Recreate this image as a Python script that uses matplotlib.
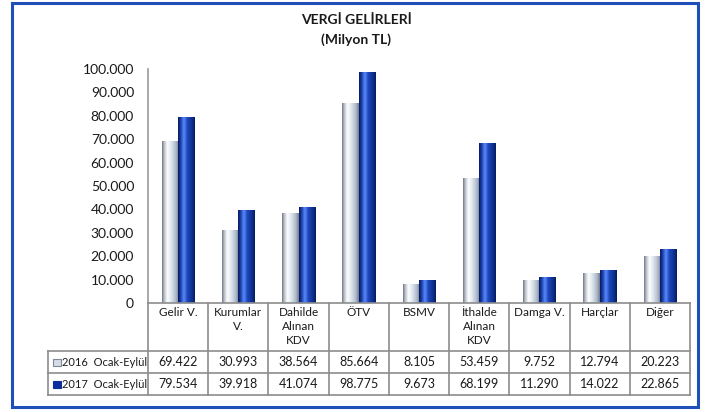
import matplotlib
matplotlib.use("Agg")
import matplotlib.pyplot as plt
import matplotlib.transforms as mtransforms
from matplotlib.colors import LinearSegmentedColormap
from matplotlib.patches import Rectangle
import numpy as np

# ── Data ──────────────────────────────────────────────────────────────────────
categories = ["Gelir V.", "Kurumlar\nV.", "Dahilde\nAlınan\nKDV", "ÖTV", "BSMV",
              "İthalde\nAlınan\nKDV", "Damga V.", "Harçlar", "Diğer"]
series_names = ["2016  Ocak-Eylül", "2017  Ocak-Eylül"]
vals_2016 = [69422, 30993, 38564, 85664, 8105, 53459, 9752, 12794, 20223]
vals_2017 = [79534, 39918, 41074, 98775, 9673, 68199, 11290, 14022, 22865]
yticks = [0, 10000, 20000, 30000, 40000, 50000, 60000, 70000, 80000, 90000, 100000]

W, H = 710, 412
FONT = ["Lato", "DejaVu Sans"]
plt.rcParams["font.family"] = FONT
LINE_CLR = "#8c8c8c"
TXT = "#1a1a1a"

cmap16 = LinearSegmentedColormap.from_list("c16", [
    (0.0, "#6e7480"), (0.12, "#b8bec8"), (0.32, "#ffffff"), (0.55, "#dde5ef"),
    (0.85, "#aab6c6"), (1.0, "#6f7a8a")])
cmap17 = LinearSegmentedColormap.from_list("c17", [
    (0.0, "#07165a"), (0.15, "#1a3fa8"), (0.35, "#5a8cff"), (0.55, "#1d46b8"),
    (0.85, "#0c2f8e"), (1.0, "#061a5c")])

fig = plt.figure(figsize=(W / 100, H / 100), dpi=100)
fig.patch.set_facecolor("white")

AX_L, AX_R, AX_T, AX_B = 148, 690, 69, 303
ax = fig.add_axes([AX_L / W, 1 - AX_B / H, (AX_R - AX_L) / W, (AX_B - AX_T) / H])
ax.set_facecolor("white")

n = len(categories)
x = np.arange(n)
bw = 0.272
bars16 = ax.bar(x - bw / 2, vals_2016, bw, color="none", edgecolor="none")
bars17 = ax.bar(x + bw / 2, vals_2017, bw, color="none", edgecolor="none")

grad = np.linspace(0, 1, 64).reshape(1, -1)
for bars, cm in ((bars16, cmap16), (bars17, cmap17)):
    for r in bars:
        x0, y0 = r.get_x(), r.get_y()
        im = ax.imshow(grad, cmap=cm, aspect="auto", interpolation="bicubic",
                       extent=(x0, x0 + r.get_width(), y0, y0 + r.get_height()),
                       zorder=3)
        im.set_clip_path(r)

ax.set_xlim(-0.5, n - 0.5)
ax.set_ylim(0, 100000)
ax.set_yticks(yticks)
ax.set_yticklabels([f"{v:,}".replace(",", ".") for v in yticks], fontsize=10, color=TXT)
ax.tick_params(axis="y", length=0, pad=10)
ax.set_xticks([])
for s in ("top", "right", "bottom"):
    ax.spines[s].set_visible(False)
ax.spines["left"].set_color("#9a9a9a")
ax.spines["left"].set_linewidth(1.2)

# ── Data table under the axis ────────────────────────────────────────────────
axh = AX_B - AX_T
unit = (AX_R - AX_L) / n
def fy(py):
    return (AX_B - py) / axh
trans = mtransforms.blended_transform_factory(ax.transData, ax.transAxes)

ROW_HDR, ROW1, ROW2 = 351, 373, 395
x_left = -0.5 - 100 / unit
x_right = n - 0.5
lkw = dict(color=LINE_CLR, lw=1.2, transform=trans, clip_on=False, zorder=5)

ax.plot([-0.5, x_right], [fy(AX_B)] * 2, **lkw)
for py in (ROW_HDR, ROW1, ROW2):
    ax.plot([x_left, x_right], [fy(py)] * 2, **lkw)
for k in range(n + 1):
    ax.plot([k - 0.5] * 2, [fy(AX_B), fy(ROW2)], **lkw)
ax.plot([x_left] * 2, [fy(ROW_HDR), fy(ROW2)], **lkw)

for i, cat in enumerate(categories):
    ax.text(i, fy(307), cat, ha="center", va="top", fontsize=8.5, color=TXT,
            linespacing=1.35, transform=trans)

for row, (py0, py1) in enumerate(((ROW_HDR, ROW1), (ROW1, ROW2))):
    vals = vals_2016 if row == 0 else vals_2017
    yc = fy((py0 + py1) / 2)
    for i, v in enumerate(vals):
        ax.text(i, yc, f"{v:,}".replace(",", "."), ha="center", va="center",
                fontsize=9, color=TXT, transform=trans)
    ax.text(x_left + 14 / unit, yc, series_names[row], ha="left", va="center",
            fontsize=8, color=TXT, transform=trans)

# legend keys in the row label cells
for row, (face, edge) in enumerate((("#d4dce8", "#7f8896"), ("#0c2f9e", "#0c2f9e"))):
    py0 = (ROW_HDR, ROW1)[row]
    fig.patches.append(Rectangle((53 / W, 1 - (py0 + 15) / H), 7.5 / W, 7.5 / H,
                                 transform=fig.transFigure, facecolor=face,
                                 edgecolor=edge, lw=0.8))

# ── Title and frame ──────────────────────────────────────────────────────────
fig.text(356 / W, 1 - 20 / H, "VERGİ GELİRLERİ", ha="center", va="center",
         fontsize=10, fontweight="bold", color=TXT)
fig.text(356 / W, 1 - 40 / H, "(Milyon TL)", ha="center", va="center",
         fontsize=10, fontweight="bold", color=TXT)
fig.patches.append(Rectangle((12 / W, 1 - 407 / H), 686 / W, 404 / H,
                             transform=fig.transFigure, facecolor="none",
                             edgecolor="#1f4fb8", lw=2.2))

fig.savefig("out.png", dpi=100, facecolor="white")
